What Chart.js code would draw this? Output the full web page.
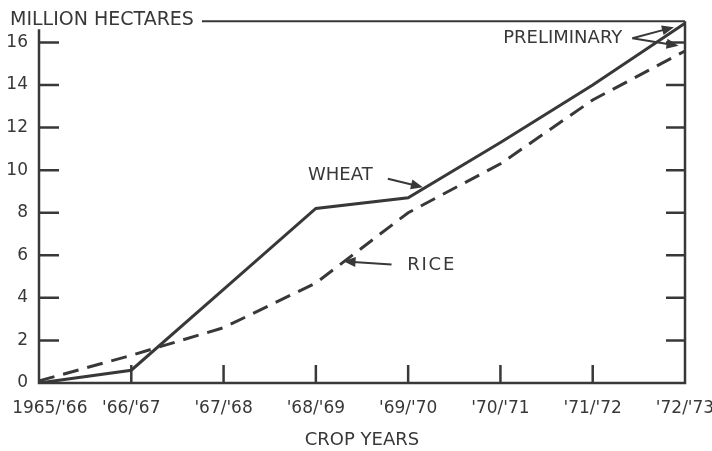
<!DOCTYPE html>
<html>
<head>
<meta charset="utf-8">
<script src="https://cdn.jsdelivr.net/npm/chart.js@4"></script>
<style>
  html, body { margin: 0; padding: 0; background: #fff; }
  canvas { display: block; }
</style>
</head>
<body>
<canvas id="chart" width="712" height="451"></canvas>
<script>
// Crop years on the x axis
const cropYears = ["1965/'66", "'66/'67", "'67/'68", "'68/'69", "'69/'70", "'70/'71", "'71/'72", "'72/'73"];

// Area under high-yielding varieties, million hectares
const wheat = [0, 0.6, 4.4, 8.2, 8.7, 11.3, 14.0, 16.9];
const rice = [0.1, 1.3, 2.6, 4.7, 8.0, 10.3, 13.3, 15.6];

const yTicks = [0, 2, 4, 6, 8, 10, 12, 14, 16];

const ink = "#383838";
const font = "'DejaVu Sans', sans-serif";

// arrow helper: line from (x1,y1) to (x2,y2) with a filled head at the end
const arrow = (ctx, x1, y1, x2, y2) => {
  const a = Math.atan2(y2 - y1, x2 - x1);
  const len = 12, w = 5;
  ctx.beginPath();
  ctx.moveTo(x1, y1);
  ctx.lineTo(x2 - Math.cos(a) * len * 0.8, y2 - Math.sin(a) * len * 0.8);
  ctx.stroke();
  ctx.beginPath();
  ctx.moveTo(x2, y2);
  ctx.lineTo(x2 - Math.cos(a) * len + Math.sin(a) * w, y2 - Math.sin(a) * len - Math.cos(a) * w);
  ctx.lineTo(x2 - Math.cos(a) * len - Math.sin(a) * w, y2 - Math.sin(a) * len + Math.cos(a) * w);
  ctx.closePath();
  ctx.fill();
};

// Frame, inward ticks, labels and arrows
const framePlugin = {
  id: "frame",
  afterDraw(chart) {
    const { ctx, chartArea: ca, scales: { x, y } } = chart;
    const px = (i) => x.getPixelForValue(i);
    const py = (v) => y.getPixelForValue(v);
    ctx.save();
    ctx.strokeStyle = ink;
    ctx.fillStyle = ink;
    ctx.lineCap = "butt";

    // axes
    ctx.lineWidth = 2.5;
    ctx.beginPath();
    ctx.moveTo(ca.left, ca.top + 8);
    ctx.lineTo(ca.left, ca.bottom);
    ctx.lineTo(ca.right, ca.bottom);
    ctx.lineTo(ca.right, ca.top);
    ctx.stroke();

    // y ticks on both sides, pointing inward
    yTicks.slice(1).forEach((v) => {
      ctx.beginPath();
      ctx.moveTo(ca.left, py(v));
      ctx.lineTo(ca.left + 20, py(v));
      ctx.moveTo(ca.right, py(v));
      ctx.lineTo(ca.right - 19, py(v));
      ctx.stroke();
    });
    // x ticks pointing up
    for (let i = 1; i < cropYears.length - 1; i++) {
      ctx.beginPath();
      ctx.moveTo(px(i), ca.bottom);
      ctx.lineTo(px(i), ca.bottom - 18);
      ctx.stroke();
    }

    // unit label with rule across the top
    ctx.font = "19px " + font;
    ctx.textBaseline = "middle";
    ctx.textAlign = "left";
    const unit = "MILLION HECTARES";
    ctx.fillText(unit, ca.left - 29, ca.top - 1);
    const uw = ctx.measureText(unit).width;
    ctx.lineWidth = 2;
    ctx.beginPath();
    ctx.moveTo(ca.left - 29 + uw + 8, ca.top);
    ctx.lineTo(ca.right, ca.top);
    ctx.stroke();

    // series labels
    ctx.font = "18px " + font;
    ctx.lineWidth = 2;
    ctx.fillText("WHEAT", px(2.915), py(9.74));
    arrow(ctx, px(3.78), py(9.6), px(4.16), py(9.2));

    ctx.fillText("R I C E".replace(/ /g, "\u200A"), px(3.99), py(5.53));
    arrow(ctx, px(3.82), py(5.57), px(3.3), py(5.72));

    ctx.textAlign = "right";
    ctx.fillText("PRELIMINARY", px(6.32), py(16.2));
    arrow(ctx, px(6.43), py(16.2), px(6.88), py(16.72));
    arrow(ctx, px(6.43), py(16.2), px(6.93), py(15.85));

    ctx.restore();
  },
};

new Chart(document.getElementById("chart"), {
  type: "line",
  plugins: [framePlugin],
  data: {
    labels: cropYears,
    datasets: [
      {
        label: "Wheat",
        data: wheat,
        borderColor: ink,
        borderWidth: 3,
        pointRadius: 0,
        tension: 0,
      },
      {
        label: "Rice",
        data: rice,
        borderColor: ink,
        borderWidth: 3,
        borderDash: [16, 9],
        pointRadius: 0,
        tension: 0,
      },
    ],
  },
  options: {
    responsive: false,
    animation: false,
    layout: { padding: { top: 20, right: 27, left: 0, bottom: 0 } },
    plugins: {
      legend: { display: false },
      tooltip: { enabled: false },
    },
    scales: {
      x: {
        offset: false,
        grid: { display: false, drawTicks: false },
        border: { display: false },
        ticks: {
          color: ink,
          font: { family: font, size: 17 },
          padding: 15,
          maxRotation: 0,
          autoSkip: false,
          // first label sits a little right of the axis corner
          callback: (v, i) => (i === 0 ? "\u00A0\u00A0\u00A0\u00A0" : "") + cropYears[i],
        },
        title: {
          display: true,
          text: "CROP YEARS",
          color: ink,
          font: { family: font, size: 18 },
          padding: { top: 0, bottom: 0 },
        },
        afterFit(scale) {
          scale.height = 68;
          scale.paddingLeft = 0;
          scale.paddingRight = 0;
        },
      },
      y: {
        min: 0,
        max: 17,
        grid: { display: false, drawTicks: false },
        border: { display: false },
        ticks: {
          stepSize: 2,
          color: ink,
          font: { family: font, size: 17 },
          padding: 11,
        },
        afterBuildTicks(scale) {
          scale.ticks = yTicks.map((v) => ({ value: v }));
        },
        afterFit(scale) {
          scale.width = 39;
        },
      },
    },
  },
});
</script>
</body>
</html>
